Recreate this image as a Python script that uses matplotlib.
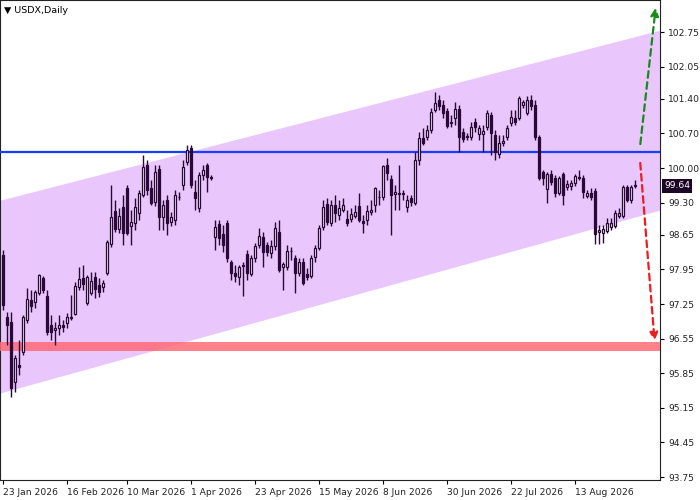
import matplotlib
matplotlib.use("Agg")
import matplotlib.pyplot as plt
import numpy as np

opens = [98.24,96.99,96.89,95.67,96.02,96.28,96.93,97.33,97.29,97.47,97.78,97.41,96.83,96.72,96.76,96.83,96.87,96.97,97.05,97.59,
97.78,97.27,97.47,97.80,97.63,97.59,97.88,98.46,99.13,98.77,99.21,99.60,98.83,98.89,99.09,99.46,100.06,99.60,99.31,99.98,
99.01,99.35,98.91,98.95,99.41,99.66,100.12,100.41,99.52,99.19,99.86,100.06,99.82,98.61,98.87,98.67,98.89,98.10,97.88,97.80,
98.02,98.26,97.86,98.18,98.44,98.61,98.44,98.28,98.42,98.71,98.00,98.00,98.32,98.18,97.88,98.10,97.86,97.82,98.20,98.38,
98.81,99.27,98.89,99.25,99.05,99.15,98.97,98.97,99.03,99.23,98.93,98.95,99.11,99.25,99.41,99.41,100.06,99.78,99.48,99.48,
99.48,99.21,99.39,99.29,100.16,100.61,100.63,100.77,101.17,101.38,101.28,101.15,100.91,101.01,101.20,100.73,100.63,100.63,100.93,100.69,
100.69,100.83,101.07,100.67,100.28,100.51,100.63,100.91,101.01,101.01,101.28,101.11,101.38,101.28,100.63,99.92,99.58,99.88,99.80,99.50,
99.88,99.62,99.64,99.70,99.82,99.80,99.44,99.50,99.54,98.71,98.69,98.73,98.81,98.83,99.03,99.03,99.62,99.35,99.64]
closes = [97.23,96.83,95.55,96.16,95.98,96.99,97.35,97.21,97.49,97.84,97.53,96.68,96.68,96.76,96.83,96.78,96.99,96.97,97.61,97.76,
97.65,97.80,97.72,97.55,97.49,97.67,98.50,99.01,98.77,99.03,98.69,98.69,98.91,99.21,99.50,100.02,99.56,99.29,99.92,99.01,
99.25,98.89,99.01,99.46,99.41,100.02,100.37,99.66,99.39,99.86,99.96,99.82,99.80,98.81,98.59,98.44,98.18,97.88,97.82,98.00,
98.02,97.88,98.18,98.42,98.63,98.30,98.30,98.42,98.79,97.94,98.06,98.32,98.32,97.88,98.10,97.67,97.80,98.18,98.38,98.79,
99.21,98.91,99.25,99.09,99.19,99.25,98.89,99.07,99.11,98.95,98.89,99.13,99.15,99.60,99.41,100.04,99.90,99.46,99.52,99.48,
99.48,99.35,99.31,100.16,100.61,100.51,100.77,101.13,101.32,101.26,101.11,100.85,100.91,101.20,100.63,100.59,100.63,100.83,100.83,100.81,
100.75,101.11,100.71,100.33,100.51,100.55,100.81,101.03,100.93,101.42,101.34,101.38,101.26,100.63,99.80,99.80,99.88,99.72,99.50,99.80,
99.46,99.68,99.70,99.84,99.80,99.52,99.50,99.41,98.67,98.75,98.77,98.89,98.89,99.09,99.09,99.62,99.35,99.62,99.64]
highs = [98.34,97.09,97.09,96.22,96.52,97.03,97.57,97.53,97.53,97.86,97.82,97.53,97.03,96.89,97.03,96.93,97.07,97.43,97.70,98.00,
98.04,97.84,97.90,97.90,97.78,97.74,98.54,99.66,99.35,99.19,99.46,99.66,99.15,99.39,99.56,100.26,100.16,99.76,100.06,100.06,
99.35,99.46,99.11,99.56,99.52,100.16,100.47,100.47,99.76,99.92,100.06,100.10,99.86,98.95,98.95,98.85,98.95,98.14,98.04,98.04,
98.10,98.34,98.24,98.48,98.79,98.71,98.50,98.54,98.91,98.95,98.10,98.44,98.40,98.24,98.18,98.18,97.98,98.24,98.44,98.85,
99.35,99.39,99.35,99.46,99.35,99.39,99.15,99.19,99.25,99.50,99.05,99.25,99.35,99.62,99.56,100.06,100.20,99.86,99.66,100.06,
99.56,99.46,99.46,100.33,100.73,100.81,100.87,101.22,101.54,101.48,101.38,101.22,101.07,101.34,101.28,100.81,100.71,100.93,101.01,100.87,
100.87,101.17,101.13,100.77,100.67,100.67,100.87,101.17,101.17,101.46,101.38,101.46,101.48,101.38,100.67,99.96,99.92,99.96,99.86,99.84,
99.92,99.76,99.76,99.88,99.96,99.86,99.56,99.60,99.60,98.85,98.85,98.99,98.99,99.15,99.19,99.66,99.66,99.66,99.76]
lows = [97.13,96.42,95.37,95.47,95.81,96.22,96.87,97.09,97.17,97.43,97.47,96.62,96.52,96.42,96.62,96.68,96.76,96.93,97.03,97.53,
97.53,97.23,97.43,97.37,97.39,97.49,97.84,98.40,98.71,98.69,98.44,98.65,98.44,98.75,98.95,99.41,99.46,99.25,99.23,98.75,
98.75,98.65,98.83,98.85,99.35,99.56,100.06,99.60,99.15,99.11,99.76,99.52,99.76,98.34,98.44,98.30,98.10,97.74,97.70,97.63,
97.41,97.74,97.82,98.10,98.38,98.00,98.22,98.18,98.34,97.90,97.53,97.94,98.14,97.47,97.82,97.63,97.74,97.78,98.10,98.34,
98.75,98.85,98.83,98.91,98.95,99.11,98.83,98.91,98.99,98.91,98.69,98.85,99.05,99.11,99.25,99.35,99.76,98.65,99.15,99.15,
99.35,99.11,99.23,99.25,100.06,100.47,100.57,100.71,101.13,101.17,101.01,100.81,100.83,100.87,100.33,100.53,100.57,100.57,100.73,100.57,
100.33,100.77,100.26,100.16,100.20,100.45,100.57,100.85,100.87,100.97,101.22,101.07,101.17,100.57,99.76,99.66,99.29,99.66,99.41,99.46,
99.25,99.56,99.56,99.64,99.76,99.39,99.39,99.35,98.46,98.46,98.48,98.69,98.75,98.79,98.99,98.99,99.31,99.29,99.60]

yticks = [102.75,102.05,101.40,100.70,100.00,99.30,98.65,97.95,97.25,96.55,95.85,95.15,94.45,93.75]
date_labels = ["23 Jan 2026","16 Feb 2026","10 Mar 2026","1 Apr 2026","23 Apr 2026","15 May 2026",
               "8 Jun 2026","30 Jun 2026","22 Jul 2026","13 Aug 2026"]
date_pos = [0,16,31,47,63,79,95,111,127,143]

channel_x = [-0.8, 164.2]
channel_upper = [99.35, 102.79]
channel_lower = [95.45, 99.15]
resistance = 100.33
support_band = (96.30, 96.48)
last_price = 99.64

dark = "#2a0838"
fig = plt.figure(figsize=(7,5), dpi=100)
ax = fig.add_axes([0, 20/500, 660/700, 480/500])
ax.set_xlim(-0.825, 164.2)
ax.set_ylim(93.69, 103.40)

ax.fill_between(channel_x, channel_lower, channel_upper, color="#e9c7fc", zorder=0, lw=0)
ax.axhline(resistance, color="#1a3cff", lw=1.6, zorder=3)
ax.axhspan(*support_band, color="#ff6b78", alpha=0.85, lw=0, zorder=3)

n = len(closes)
x = np.arange(n)
o = np.array(opens); c = np.array(closes); h = np.array(highs); l = np.array(lows)
ax.vlines(x, l, h, color=dark, lw=1, zorder=4)
bull = c >= o
body = np.maximum(np.abs(c-o), 0.012)
ax.bar(x[bull], body[bull], bottom=np.minimum(o,c)[bull], width=0.55, facecolor="white",
       edgecolor=dark, lw=0.9, zorder=5)
ax.bar(x[~bull], body[~bull], bottom=np.minimum(o,c)[~bull], width=0.55, facecolor=dark,
       edgecolor=dark, lw=0.9, zorder=5)

ax.annotate("", xy=(163.2, 103.30), xytext=(159.2, 100.43),
            arrowprops=dict(arrowstyle="-|>", color="#1a8a1a", lw=1.6, ls=(0,(3,2)), mutation_scale=12), zorder=6)
ax.annotate("", xy=(162.9, 96.45), xytext=(159.2, 100.16),
            arrowprops=dict(arrowstyle="-|>", color="#ee1c1c", lw=1.6, ls=(0,(3,2)), mutation_scale=12), zorder=6)

ax.yaxis.tick_right()
ax.set_yticks(yticks)
ax.set_yticklabels([f"{v:.2f}" for v in yticks], fontsize=6.6, color="#222222")
ax.tick_params(axis="y", length=3, pad=3, direction="out")
ax.set_xticks(date_pos)
ax.set_xticklabels(date_labels, fontsize=6.6, ha="left", color="#222222")
ax.tick_params(axis="x", length=3, pad=3)
for s in ax.spines.values():
    s.set_color("#222222"); s.set_linewidth(0.8)

ax.text(0.006, 0.988, "\u25bc USDX,Daily", transform=ax.transAxes, fontsize=6.8, va="top", ha="left")
ax.text(1.006, last_price, f"{last_price:.2f}", transform=ax.get_yaxis_transform(), fontsize=6.6,
        color="white", va="center", ha="left",
        bbox=dict(boxstyle="square,pad=0.25", fc="#1c0626", ec="none"))

fig.savefig("out.png", dpi=100)
